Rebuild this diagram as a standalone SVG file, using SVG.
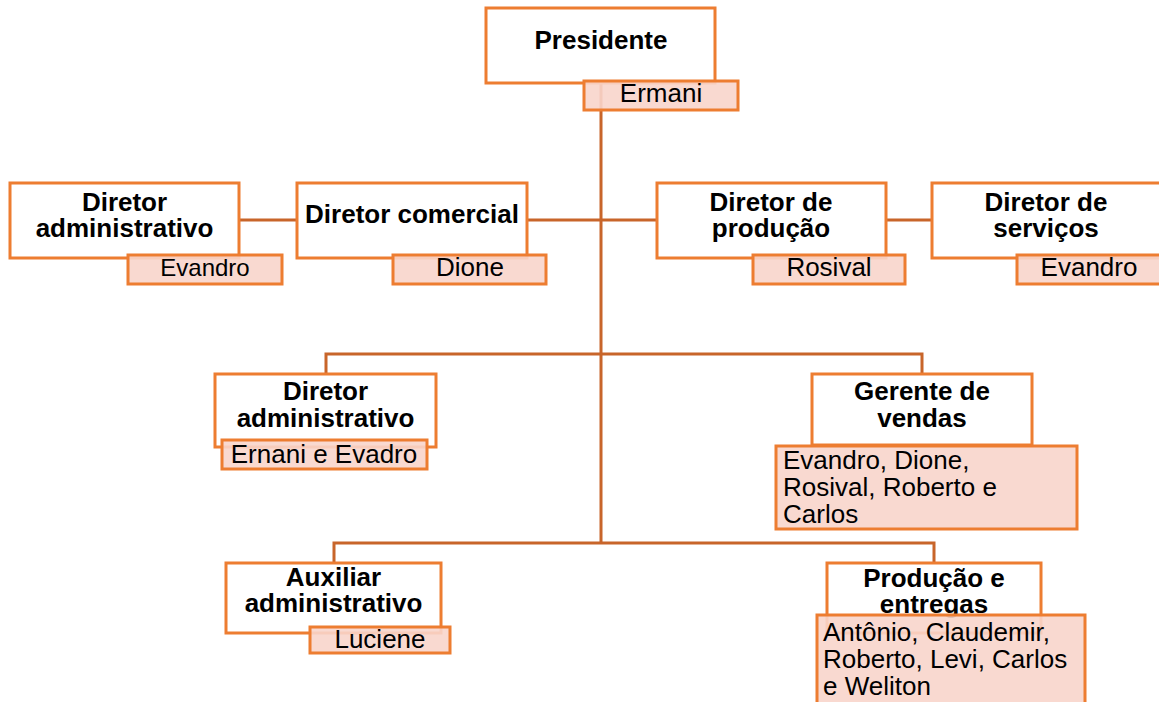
<svg xmlns="http://www.w3.org/2000/svg" width="1159" height="702" viewBox="0 0 1159 702">
<style>
.box{fill:#ffffff;stroke:#ED7D31;stroke-width:3}
.name{fill:#F8D5CB;fill-opacity:0.9;stroke:#ED7D31;stroke-width:3}
.conn{stroke:#C8652A;stroke-width:3;fill:none}
.t{font-family:"Liberation Sans",Arial,sans-serif;font-size:26px;font-weight:bold;fill:#000;text-anchor:middle}
.n{font-family:"Liberation Sans",Arial,sans-serif;font-size:26px;fill:#000;text-anchor:middle}
.nl{font-family:"Liberation Sans",Arial,sans-serif;font-size:26px;fill:#000}
</style>
<rect width="1159" height="702" fill="#ffffff"/>
<g id="connectors">
<line class="conn" x1="601" y1="83" x2="601" y2="543"/>
<line class="conn" x1="239" y1="220" x2="297" y2="220"/>
<line class="conn" x1="527" y1="220" x2="657" y2="220"/>
<line class="conn" x1="886" y1="220" x2="932" y2="220"/>
<polyline class="conn" points="326,374 326,354 922,354 922,374"/>
<polyline class="conn" points="334,563 334,543 934,543 934,563"/>
</g>
<g id="presidente">
<rect class="box" x="486" y="8" width="229" height="75"/>
<text class="t" x="601" y="49">Presidente</text>
<rect class="name" x="584" y="81" width="154" height="29"/>
<text class="n" x="661" y="102">Ermani</text>
</g>
<g id="diretor-administrativo-1">
<rect class="box" x="10" y="183" width="229" height="75"/>
<text class="t" x="124.5" y="211">Diretor</text>
<text class="t" x="124.5" y="237">administrativo</text>
<rect class="name" x="128" y="255" width="154" height="29"/>
<text class="n" x="205" y="276" style="font-size:24px">Evandro</text>
</g>
<g id="diretor-comercial">
<rect class="box" x="297" y="183" width="230" height="75"/>
<text class="t" x="412" y="223">Diretor comercial</text>
<rect class="name" x="393" y="255" width="153" height="29"/>
<text class="n" x="470" y="276">Dione</text>
</g>
<g id="diretor-producao">
<rect class="box" x="657" y="183" width="229" height="75"/>
<text class="t" x="771" y="211">Diretor de</text>
<text class="t" x="771" y="237">produção</text>
<rect class="name" x="753" y="255" width="152" height="29"/>
<text class="n" x="829" y="276">Rosival</text>
</g>
<g id="diretor-servicos">
<rect class="box" x="932" y="183" width="230" height="75"/>
<text class="t" x="1046" y="211">Diretor de</text>
<text class="t" x="1046" y="237">serviços</text>
<rect class="name" x="1017" y="255" width="148" height="29"/>
<text class="n" x="1089" y="276">Evandro</text>
</g>
<g id="diretor-administrativo-2">
<rect class="box" x="215" y="374" width="221" height="73"/>
<text class="t" x="325.5" y="400">Diretor</text>
<text class="t" x="325.5" y="427">administrativo</text>
<rect class="name" x="222" y="440" width="205" height="29"/>
<text class="n" x="324" y="463">Ernani e Evadro</text>
</g>
<g id="gerente-vendas">
<rect class="box" x="812" y="374" width="220" height="71"/>
<text class="t" x="922" y="400">Gerente de</text>
<text class="t" x="922" y="427">vendas</text>
<rect class="name" x="776" y="446" width="301" height="83"/>
<text class="nl" x="783" y="469">Evandro, Dione,</text>
<text class="nl" x="783" y="496">Rosival, Roberto e</text>
<text class="nl" x="783" y="523">Carlos</text>
</g>
<g id="auxiliar-administrativo">
<rect class="box" x="226" y="563" width="215" height="70"/>
<text class="t" x="333.5" y="586">Auxiliar</text>
<text class="t" x="333.5" y="612">administrativo</text>
<rect class="name" x="310" y="627" width="140" height="26"/>
<text class="n" x="380" y="648">Luciene</text>
</g>
<g id="producao-entregas">
<rect class="box" x="827" y="563" width="214" height="70"/>
<text class="t" x="934" y="587">Produção e</text>
<text class="t" x="934" y="613">entregas</text>
<rect class="name" x="817" y="615" width="268" height="95"/>
<text class="nl" x="823" y="641">Antônio, Claudemir,</text>
<text class="nl" x="823" y="668">Roberto, Levi, Carlos</text>
<text class="nl" x="823" y="695">e Weliton</text>
</g>
</svg>
